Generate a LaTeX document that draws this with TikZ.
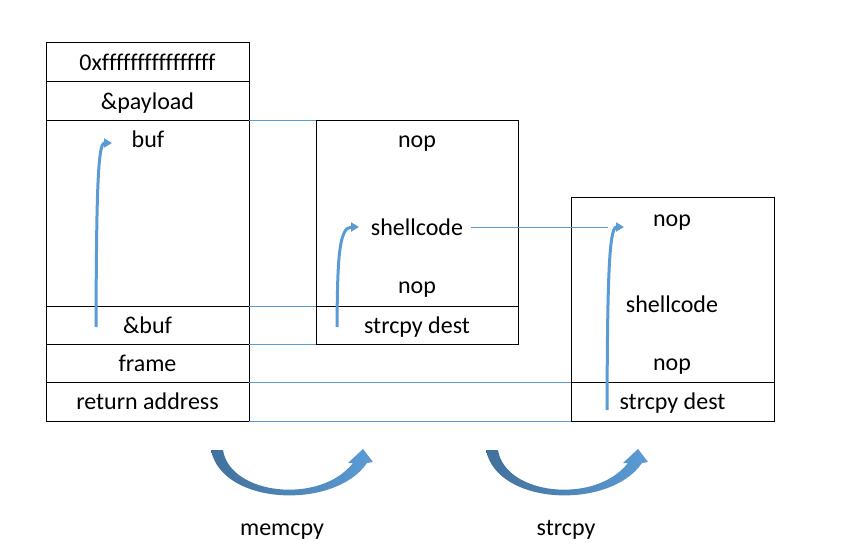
\documentclass[tikz,border=0pt]{standalone}
\usepackage{fontspec}
\setmainfont{Carlito}[Ligatures=NoCommon]
\usetikzlibrary{arrows.meta}
\definecolor{lblue}{HTML}{5B9BD5}
\definecolor{dblue}{HTML}{41719C}
\begin{document}
\begin{tikzpicture}[x=1pt,y=-1pt,
  txt/.style={font=\fontsize{24}{29}\selectfont, text height=20pt, text depth=4pt, inner sep=0pt, outer sep=0pt},
  cell/.style={txt, draw=black, line width=1pt, minimum width=203pt},
  link/.style={draw=lblue, line width=1pt},
  hook/.style={draw=lblue, line width=3pt, -{Triangle[length=8pt,width=9pt]}},
  bigarrow/.style={left color=dblue, right color=lblue, draw=none}]
\useasboundingbox (0,0) rectangle (867,556);

% left stack
\node[cell, minimum height=39pt]  (r0) at (147.5,62.5)  {0xffffffffffffffff};
\node[cell, minimum height=39pt]  (r1) at (147.5,101.5) {\&payload};
\node[cell, minimum height=185pt] (r2) at (147.5,213.5) {};
\node[cell, minimum height=38pt]  (r3) at (147.5,325)   {\&buf};
\node[cell, minimum height=38pt]  (r4) at (147.5,363)   {frame};
\node[cell, minimum height=39pt]  (r5) at (147.5,401.5) {return address};
\node[txt] (buf) at (148,140) {buf};

% middle box
\node[cell, minimum width=202pt, minimum height=185pt] (m0) at (417,213.5) {};
\node[cell, minimum width=202pt, minimum height=38pt]  (m1) at (417,325)   {strcpy dest};
\node[txt] (mnop1) at (417,140) {nop};
\node[txt] (msc)   at (417,227) {shellcode};
\node[txt] (mnop2) at (417,285) {nop};

% right box
\node[cell, minimum height=184pt] (q0) at (672.5,290)   {};
\node[cell, minimum height=39pt]  (q1) at (672.5,401.5) {strcpy dest};
\node[txt] (qnop1) at (672,218) {nop};
\node[txt] (qsc)   at (672,304) {shellcode};
\node[txt] (qnop2) at (672,362) {nop};

% thin blue links
\draw[link] (r2.north east) -- (m0.north west);
\draw[link] (r3.north east) -- (m1.north west);
\draw[link] (r3.south east) -- (m1.south west);
\draw[link] (r5.north east) -- (q1.north west);
\draw[link] (r5.south east) -- (q1.south west);

% coordinates for hooks
\coordinate (hL0) at (96,327);   \coordinate (hL1) at (112,143);
\coordinate (hM0) at (337,327);  \coordinate (hM1) at (359,227);
\coordinate (hR0) at (607,410);  \coordinate (hR1) at (624,227);
\coordinate (scEnd) at (608,227);

\draw[link] ([xshift=8pt]msc.east) -- (scEnd);

\draw[hook] (hL0) .. controls (96.5,200) and (97.5,143) .. (hL1);
\draw[hook] (hM0) .. controls (337.5,262) and (338.5,227) .. (hM1);
\draw[hook] (hR0) .. controls (607.5,290) and (608.5,227) .. (hR1);

% big curved arrows
\foreach \dx in {0,275}{
  \begin{scope}[xshift=\dx pt]
    \shade[bigarrow] (211,450) -- (223,450)
      .. controls (230,495) and (320,505) .. (353,463)
      -- (348,463) -- (363,449) -- (373,462) -- (367,463)
      .. controls (335,510) and (222,506) .. (211,450) -- cycle;
  \end{scope}
}

\node[txt] (memcpy) at (282,527) {memcpy};
\node[txt] (strcpy) at (566,527) {strcpy};
\end{tikzpicture}
\end{document}
